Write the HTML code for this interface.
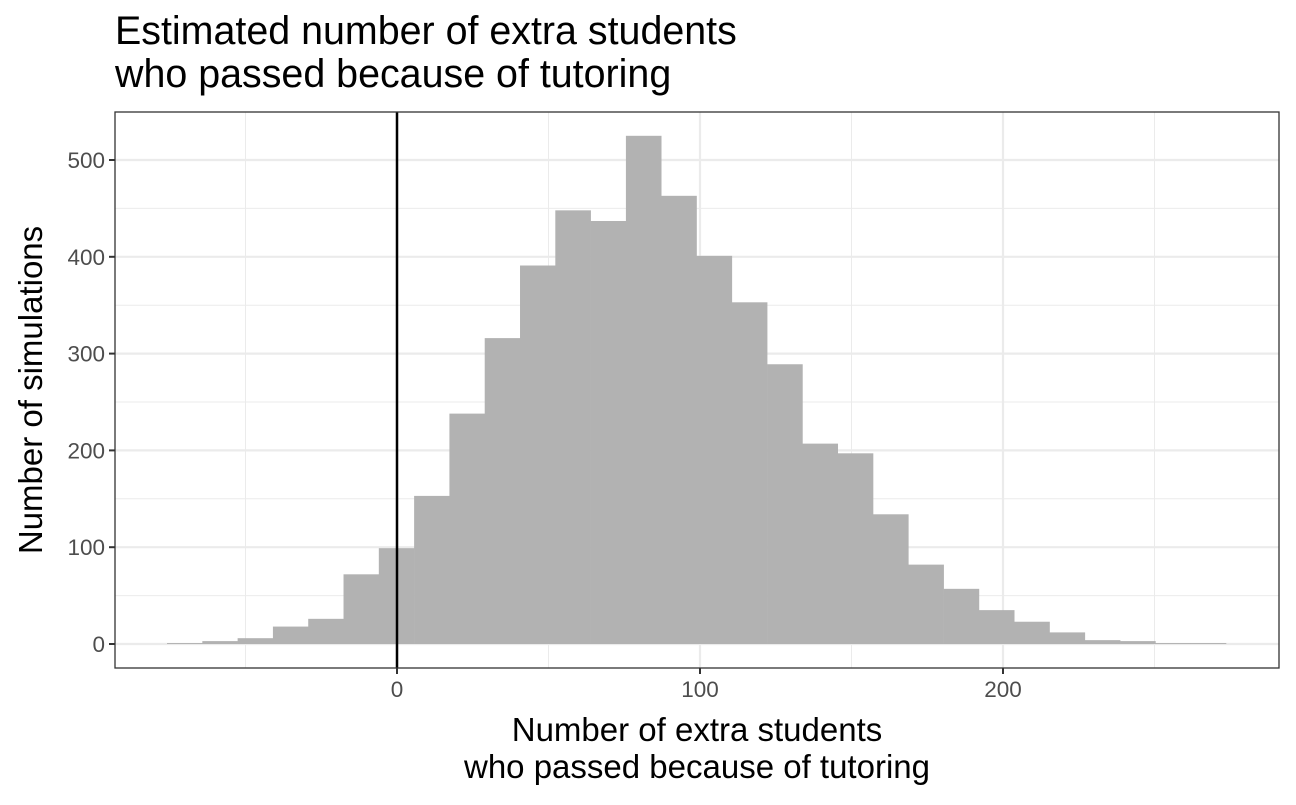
<!DOCTYPE html>
<html><head><meta charset="utf-8"><style>
body{margin:0;background:#fff;}
svg text{font-family:"Liberation Sans",sans-serif;}
</style></head><body>
<svg id="chart" width="1296" height="800">
<text x="115" y="44" font-size="39.4" fill="#000">Estimated number of extra students</text>
<text x="115" y="87" font-size="39.4" fill="#000">who passed because of tutoring</text>
<g id="grid"></g><g id="bars"></g><g id="axes"></g>
<text x="697" y="741" font-size="33" text-anchor="middle">Number of extra students</text>
<text x="697" y="778" font-size="33" text-anchor="middle">who passed because of tutoring</text>
<text transform="translate(42,390) rotate(-90)" font-size="33" text-anchor="middle">Number of simulations</text>
</svg>
<script>
const binStart = -75.9;
const binWidth = 11.65;
const counts = [1,3,6,18,26,72,99,153,238,316,391,448,437,525,463,401,353,289,207,197,134,82,57,35,23,12,4,3,1,1];
const xMajor = [0,100,200];
const xMinor = [-50,50,150,250];
const yMajor = [0,100,200,300,400,500];
const yMinor = [50,150,250,350,450,550];
const L=115,R=1279,T=112,B=668;
const xs=v=>397+v*3.03;
const ys=v=>644-v*0.968;
const NS="http://www.w3.org/2000/svg";
function mk(tag,attrs,parent){const e=document.createElementNS(NS,tag);for(const k in attrs)e.setAttribute(k,attrs[k]);parent.appendChild(e);return e;}
const grid=document.getElementById('grid'),bars=document.getElementById('bars'),axes=document.getElementById('axes');
mk('rect',{x:L,y:T,width:R-L,height:B-T,fill:'#fff'},grid);
yMinor.forEach(v=>{if(ys(v)>T){const l=mk('line',{x1:L,x2:R,y1:ys(v),y2:ys(v),stroke:'#ebebeb','stroke-width':1},grid);

}});
xMinor.forEach(v=>{const l=mk('line',{x1:xs(v),x2:xs(v),y1:T,y2:B,stroke:'#ebebeb','stroke-width':1},grid);

});
yMajor.forEach(v=>{const l=mk('line',{x1:L,x2:R,y1:ys(v),y2:ys(v),stroke:'#ebebeb','stroke-width':2.2},grid);


mk('line',{x1:L-6,x2:L,y1:ys(v),y2:ys(v),stroke:'#333','stroke-width':2},axes);
const t=mk('text',{x:L-10,y:ys(v)+8,'font-size':22.5,fill:'#4d4d4d','text-anchor':'end'},axes);t.textContent=v;

});
xMajor.forEach(v=>{const l=mk('line',{x1:xs(v),x2:xs(v),y1:T,y2:B,stroke:'#ebebeb','stroke-width':2.2},grid);


mk('line',{x1:xs(v),x2:xs(v),y1:B,y2:B+6,stroke:'#333','stroke-width':2},axes);
const t=mk('text',{x:xs(v),y:B+29,'font-size':22.5,fill:'#4d4d4d','text-anchor':'middle'},axes);t.textContent=v;

});
counts.forEach((c,i)=>{const x0=xs(binStart+i*binWidth),x1=xs(binStart+(i+1)*binWidth);
const r=mk('rect',{x:x0,y:ys(c),width:x1-x0+0.3,height:ys(0)-ys(c),fill:'#b2b2b2'},bars);

});
const vl=mk('line',{x1:xs(0),x2:xs(0),y1:T,y2:B,stroke:'#000','stroke-width':2.5},axes);


const fr=mk('rect',{x:L,y:T,width:R-L,height:B-T,fill:'none',stroke:'#333','stroke-width':1.3},axes);


</script>
</body></html>
